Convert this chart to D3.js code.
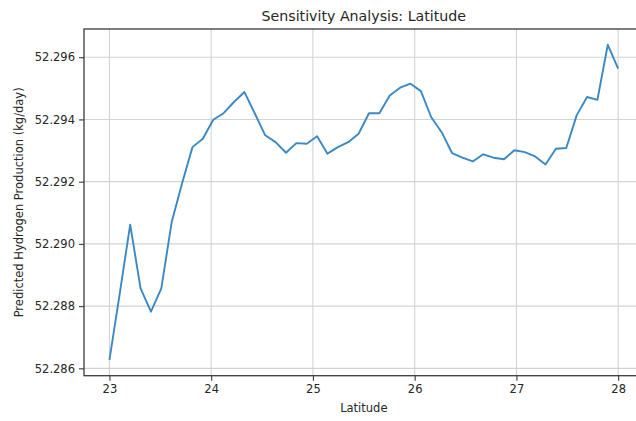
<!DOCTYPE html>
<html>
<head>
<meta charset="utf-8">
<script src="https://cdn.jsdelivr.net/npm/d3@7"></script>
<style>
  body { margin: 0; background: #fff; }
  svg text { font-family: "DejaVu Sans", sans-serif; fill: #262626; }
</style>
</head>
<body>
<svg id="chart" width="636" height="421"></svg>
<script>
// Latitude sweep (50 samples between 23 and 28)
const latitude = [
  23.000, 23.102, 23.204, 23.306, 23.408, 23.510, 23.612, 23.714, 23.816, 23.918,
  24.020, 24.122, 24.224, 24.327, 24.429, 24.531, 24.633, 24.735, 24.837, 24.939,
  25.041, 25.143, 25.245, 25.347, 25.449, 25.551, 25.653, 25.755, 25.857, 25.959,
  26.061, 26.163, 26.265, 26.367, 26.469, 26.571, 26.673, 26.776, 26.878, 26.980,
  27.082, 27.184, 27.286, 27.388, 27.490, 27.592, 27.694, 27.796, 27.898, 28.000
];

// Predicted hydrogen production (kg/day) at each latitude
const production = [
  52.28627, 52.28842, 52.29062, 52.28857, 52.28782, 52.28857, 52.29070, 52.29195, 52.29311, 52.29338,
  52.29399, 52.29420, 52.29456, 52.29488, 52.29419, 52.29349, 52.29327, 52.29293, 52.29324, 52.29322,
  52.29346, 52.29290, 52.29311, 52.29327, 52.29354, 52.29420, 52.29420, 52.29477, 52.29502, 52.29515,
  52.29491, 52.29407, 52.29359, 52.29292, 52.29277, 52.29265, 52.29288, 52.29277, 52.29272, 52.29301,
  52.29295, 52.29281, 52.29255, 52.29306, 52.29308, 52.29413, 52.29472, 52.29463, 52.29640, 52.29563
];

const xTicks = [23, 24, 25, 26, 27, 28];
const yTicks = [52.286, 52.288, 52.290, 52.292, 52.294, 52.296];

const titleText = "Sensitivity Analysis: Latitude";
const xLabel = "Latitude";
const yLabel = "Predicted Hydrogen Production (kg/day)";

const svg = d3.select("#chart");

// Plot frame (the figure is wider than the window, so the right edge runs off the page)
const frame = { left: 84, top: 29, right: 643.6, bottom: 375.7 };

// Axis limits with 5% padding around the data, like matplotlib's default margins
function padded(ext) {
  const pad = (ext[1] - ext[0]) * 0.05;
  return [ext[0] - pad, ext[1] + pad];
}

const x = d3.scaleLinear()
  .domain(padded(d3.extent(latitude)))
  .range([frame.left, frame.right]);

const y = d3.scaleLinear()
  .domain(padded(d3.extent(production)))
  .range([frame.bottom, frame.top]);

// Grid
const grid = svg.append("g").attr("stroke", "#d3d3d3").attr("stroke-width", 1.1);
grid.selectAll("line.vx").data(xTicks).join("line")
  .attr("x1", d => x(d)).attr("x2", d => x(d))
  .attr("y1", frame.top).attr("y2", frame.bottom);
grid.selectAll("line.hy").data(yTicks).join("line")
  .attr("x1", frame.left).attr("x2", frame.right)
  .attr("y1", d => y(d)).attr("y2", d => y(d));

// Data line
const line = d3.line()
  .x((d, i) => x(latitude[i]))
  .y(d => y(d));

svg.append("path")
  .datum(production)
  .attr("fill", "none")
  .attr("stroke", "#3b88c4")
  .attr("stroke-width", 1.9)
  .attr("stroke-linejoin", "round")
  .attr("d", line);

// Spines
const spines = svg.append("g").attr("stroke", "#3a3a3a").attr("stroke-width", 1.3).attr("fill", "none");
spines.append("rect")
  .attr("x", frame.left).attr("y", frame.top)
  .attr("width", frame.right - frame.left)
  .attr("height", frame.bottom - frame.top);

// Axes
const xAxis = svg.append("g")
  .attr("transform", `translate(0,${frame.bottom})`)
  .call(d3.axisBottom(x).tickValues(xTicks).tickFormat(d3.format("d")).tickSize(5).tickPadding(4));
const yAxis = svg.append("g")
  .attr("transform", `translate(${frame.left},0)`)
  .call(d3.axisLeft(y).tickValues(yTicks).tickFormat(d3.format(".3f")).tickSize(5).tickPadding(4));

[xAxis, yAxis].forEach(g => {
  g.select(".domain").remove();
  g.selectAll(".tick line").attr("stroke", "#3a3a3a").attr("stroke-width", 1.1);
  g.selectAll(".tick text").attr("font-size", 11.5).attr("fill", "#262626")
    .attr("font-family", "DejaVu Sans, sans-serif");
});

const midX = (frame.left + frame.right) / 2;
const midY = (frame.top + frame.bottom) / 2;

svg.append("text")
  .attr("x", midX).attr("y", 21)
  .attr("text-anchor", "middle")
  .attr("font-size", 14.2)
  .text(titleText);

svg.append("text")
  .attr("x", midX).attr("y", 412)
  .attr("text-anchor", "middle")
  .attr("font-size", 11.5)
  .text(xLabel);

svg.append("text")
  .attr("transform", `translate(23,${midY}) rotate(-90)`)
  .attr("text-anchor", "middle")
  .attr("font-size", 11.5)
  .text(yLabel);
</script>
</body>
</html>
